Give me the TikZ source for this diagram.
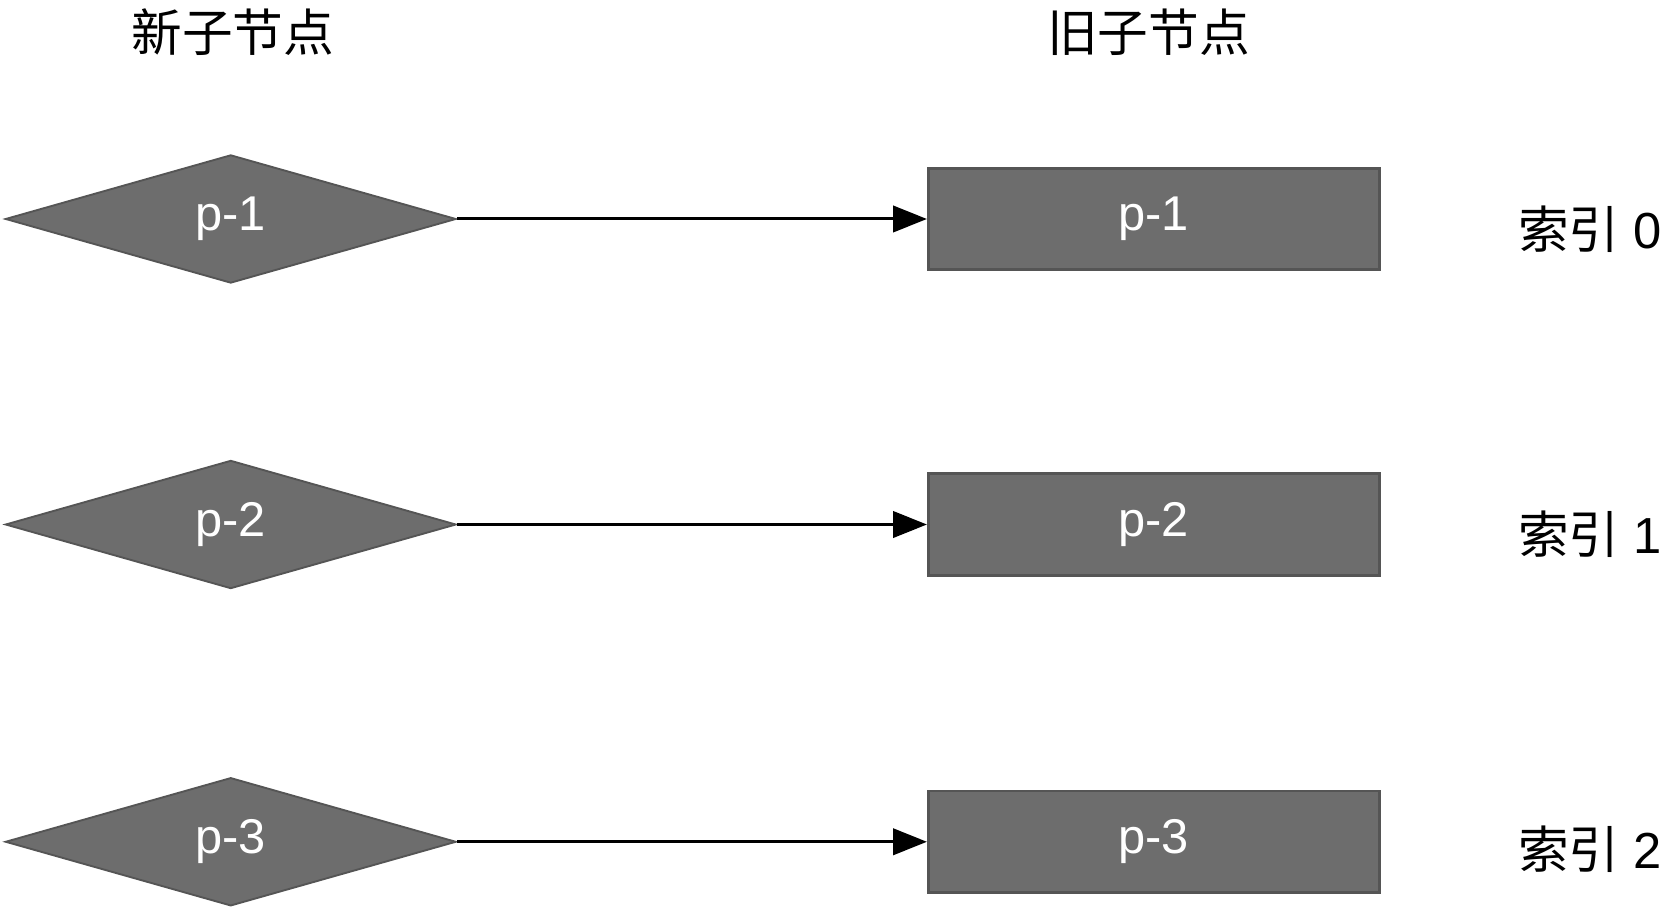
\documentclass[tikz,border=0pt]{standalone}
\usepackage{fontspec}
\setmainfont{Liberation Sans}
\newfontfamily\cjk{Noto Sans CJK SC}
\usetikzlibrary{shapes.geometric,arrows.meta}
\definecolor{nodegray}{HTML}{6D6D6D}
\definecolor{edgegray}{HTML}{555555}
\begin{document}
\begin{tikzpicture}[
    newnode/.style={diamond,aspect=3.52,minimum width=8.44cm,minimum height=2.4cm,inner sep=0pt,
      fill=nodegray,draw=edgegray,line width=1pt,text=white,font=\fontsize{26}{30}\selectfont},
    oldnode/.style={rectangle,minimum width=8.44cm,minimum height=1.9cm,
      fill=nodegray,draw=edgegray,line width=1.5pt,text=white,font=\fontsize{26}{30}\selectfont},
    link/.style={line width=1.6pt,-{Triangle[length=18pt,width=14pt]}},
    title/.style={font=\cjk\fontsize{27}{30}\selectfont}
  ]
    \useasboundingbox (0,0) rectangle (31.36,-16.98);

    \node[title] (newtitle) at (4.36,-0.6) {新子节点};
    \node[title] (oldtitle) at (21.5,-0.6) {旧子节点};

    \foreach \i/\y in {1/4.1,2/9.82,3/15.76}{% one row per child
      \node[newnode] (new\i) at (4.32,-\y) {p-\i};
      \node[oldnode] (old\i) at (21.6,-\y) {p-\i};
      \draw[link] (new\i.east) -- (old\i.west);
    }
    \node[font=\fontsize{27}{30}\selectfont,anchor=west] (idx0) at (28.3,-4.3) {{\cjk 索引} 0};
    \node[font=\fontsize{27}{30}\selectfont,anchor=west] (idx1) at (28.3,-10.0) {{\cjk 索引} 1};
    \node[font=\fontsize{27}{30}\selectfont,anchor=west] (idx2) at (28.3,-15.9) {{\cjk 索引} 2};
\end{tikzpicture}
\end{document}
